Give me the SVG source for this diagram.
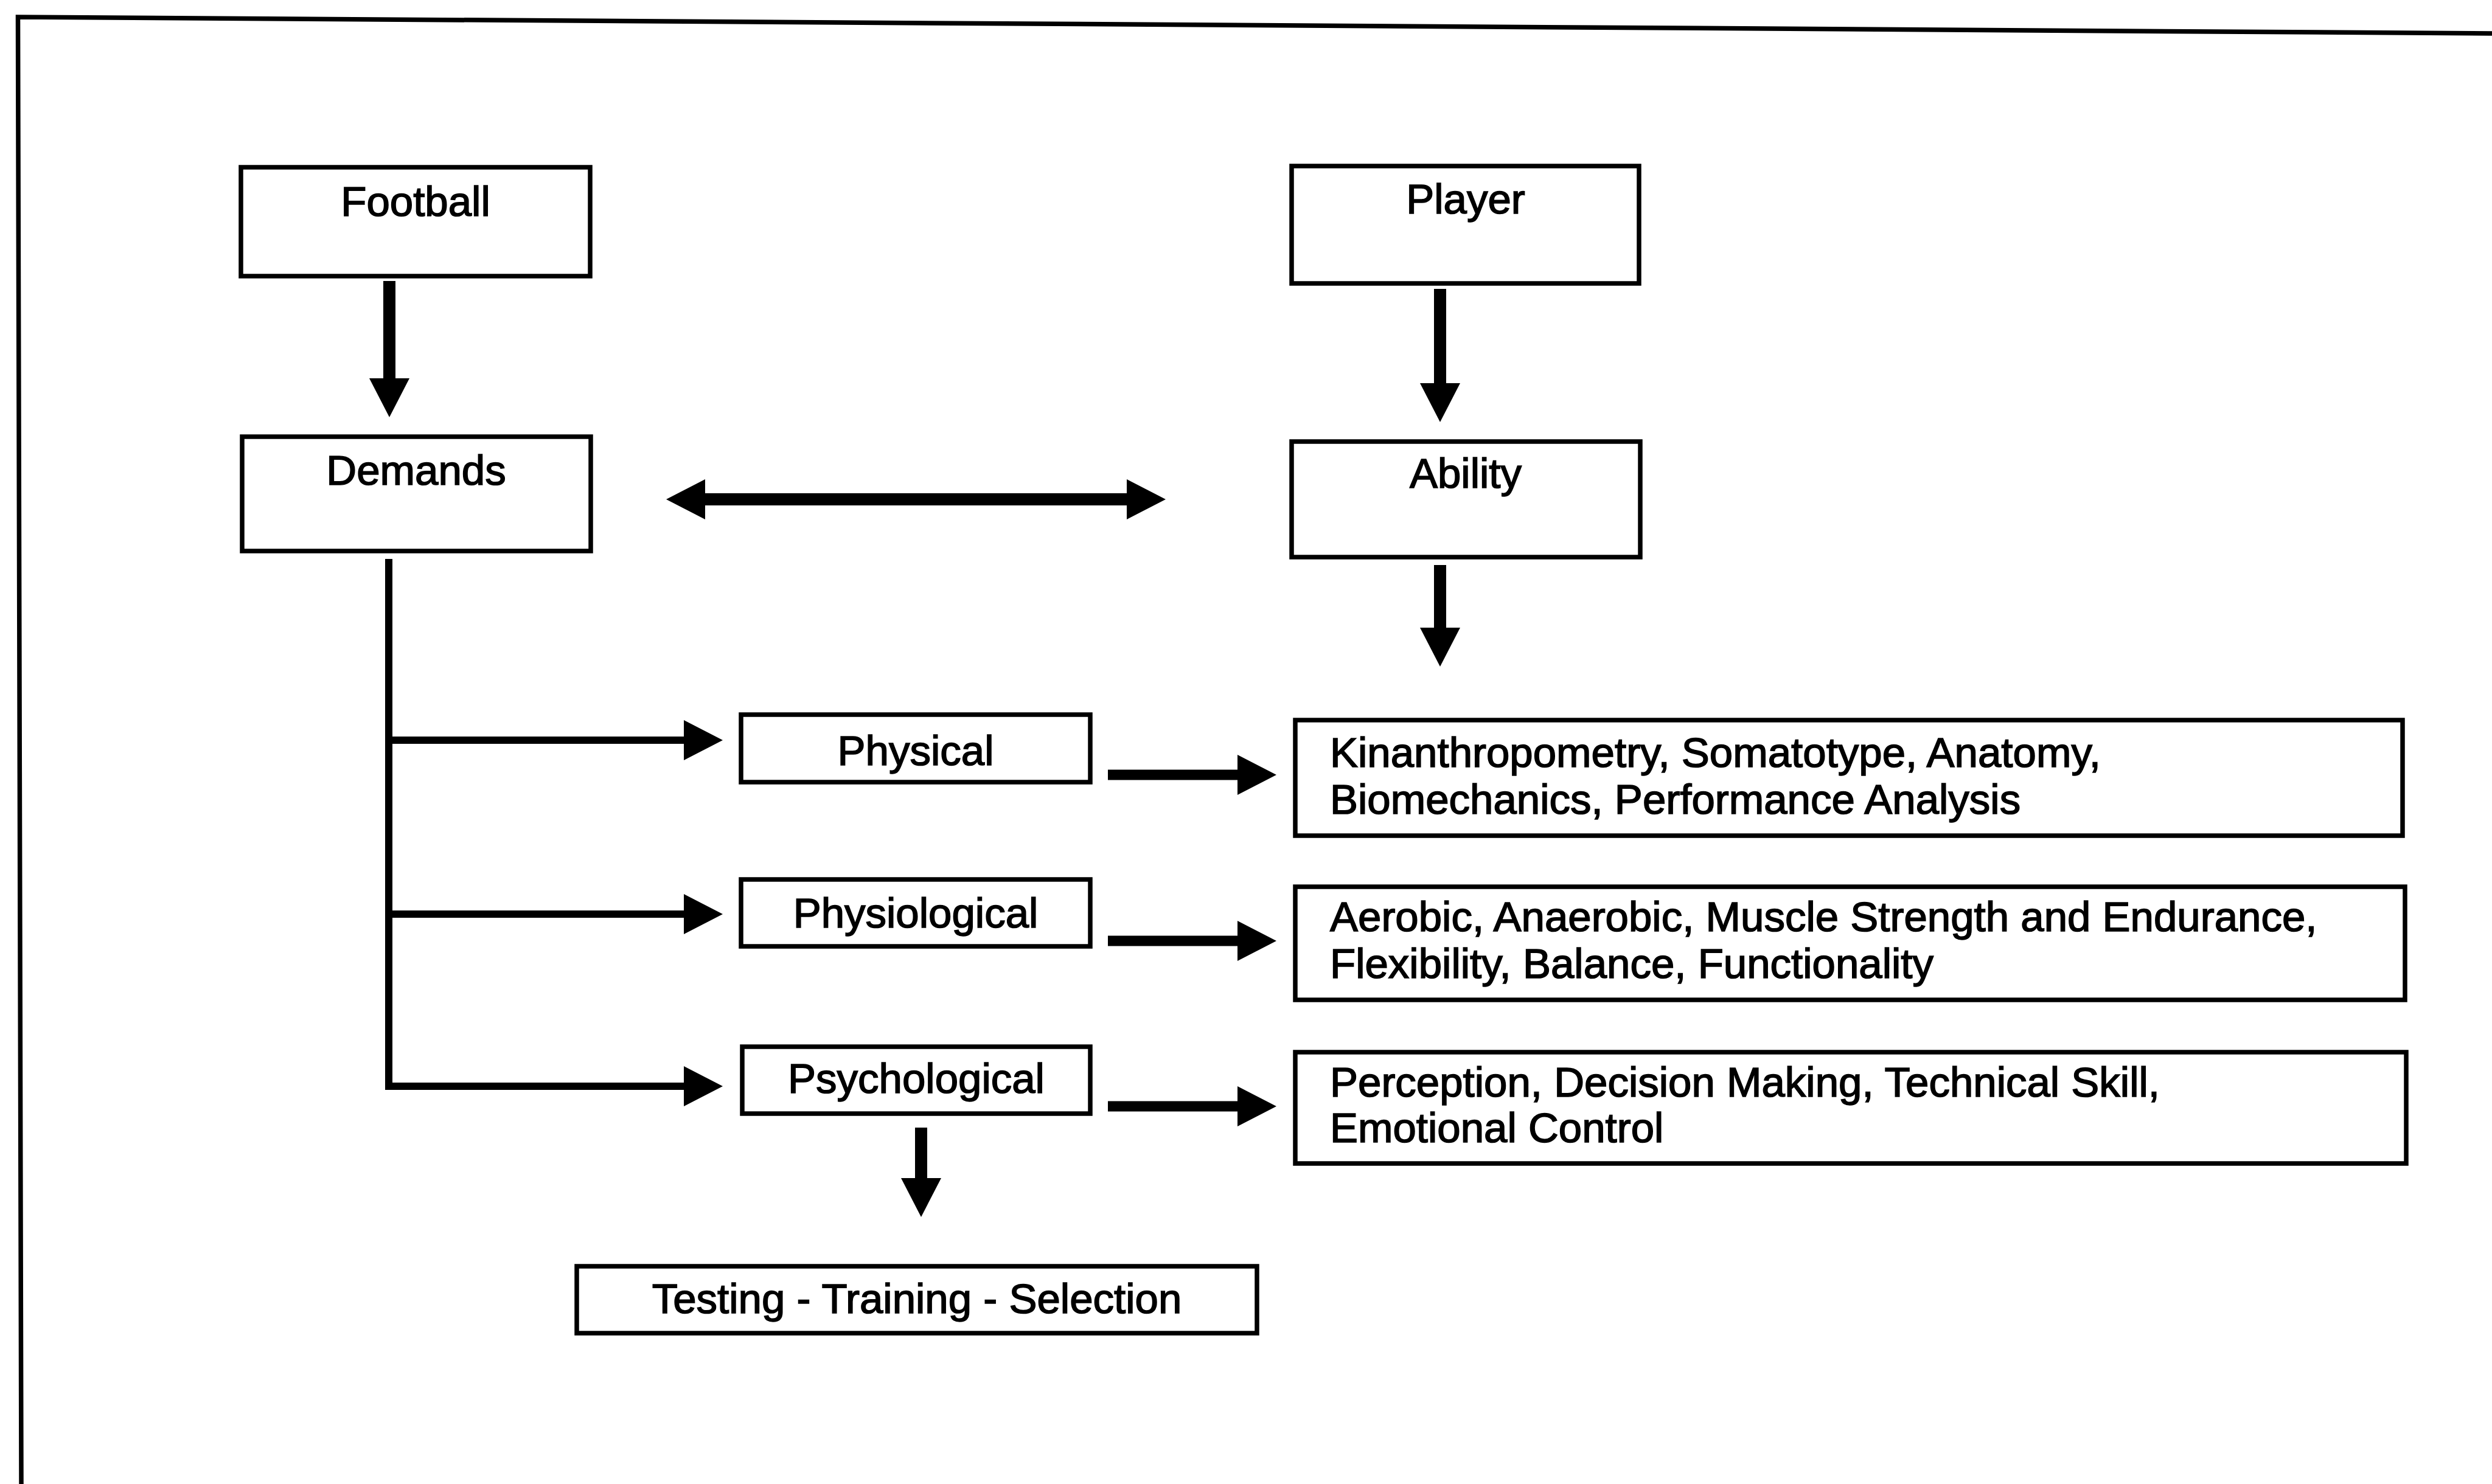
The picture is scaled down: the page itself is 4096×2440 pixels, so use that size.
<svg xmlns="http://www.w3.org/2000/svg" width="4096" height="2440" viewBox="0 0 4096 2440">
<style>
  .box { fill: #ffffff; stroke: #000000; stroke-width: 7.5; }
  .lbl { font-family: "Liberation Sans", Arial, sans-serif; font-size: 69px; fill: #000000; stroke: #000000; stroke-width: 1.6; }
  .mid { text-anchor: middle; }
  .frame { fill: none; stroke: #000000; stroke-width: 7.5; }
  .shaft { fill: none; stroke: #000000; stroke-width: 20; }
  .branch { fill: none; stroke: #000000; stroke-width: 12; }
  .side { fill: none; stroke: #000000; stroke-width: 17; }
</style>
<defs>
  <marker id="ah" markerUnits="userSpaceOnUse" markerWidth="64" markerHeight="66" viewBox="0 0 64 66" refX="0" refY="33" orient="auto-start-reverse">
    <path d="M0,0 L64,33 L0,66 z" fill="#000000"/>
  </marker>
</defs>
<rect x="0" y="0" width="4096" height="2440" fill="#ffffff"/>
<g id="frame">
  <path class="frame" d="M35,2440 L29.5,28 L4096,55"/>
</g>
<g id="connectors">
  <line class="shaft" x1="640" y1="462" x2="640" y2="622" marker-end="url(#ah)"/>
  <line class="shaft" x1="2367" y1="475" x2="2367" y2="630" marker-end="url(#ah)"/>
  <line class="shaft" x1="2367" y1="929" x2="2367" y2="1032" marker-end="url(#ah)"/>
  <line class="shaft" x1="1159" y1="821" x2="1852" y2="821" marker-start="url(#ah)" marker-end="url(#ah)"/>
  <path class="branch" d="M639,919 L639,1792"/>
  <line class="branch" x1="633" y1="1217" x2="1124" y2="1217" marker-end="url(#ah)"/>
  <line class="branch" x1="633" y1="1503" x2="1124" y2="1503" marker-end="url(#ah)"/>
  <line class="branch" x1="633" y1="1786" x2="1124" y2="1786" marker-end="url(#ah)"/>
  <line class="shaft" x1="1514" y1="1854" x2="1514" y2="1937" marker-end="url(#ah)"/>
  <line class="side" x1="1821" y1="1274" x2="2034" y2="1274" marker-end="url(#ah)"/>
  <line class="side" x1="1821" y1="1547" x2="2034" y2="1547" marker-end="url(#ah)"/>
  <line class="side" x1="1821" y1="1819" x2="2034" y2="1819" marker-end="url(#ah)"/>
</g>
<g id="football">
  <rect class="box" x="396" y="275" width="574" height="179"/>
  <text class="lbl mid" x="683" y="355">Football</text>
</g>
<g id="demands">
  <rect class="box" x="398" y="718" width="573" height="188"/>
  <text class="lbl mid" x="684" y="797">Demands</text>
</g>
<g id="player">
  <rect class="box" x="2123" y="273" width="571" height="193"/>
  <text class="lbl mid" x="2409" y="351">Player</text>
</g>
<g id="ability">
  <rect class="box" x="2123" y="726" width="573" height="190"/>
  <text class="lbl mid" x="2409" y="802">Ability</text>
</g>
<g id="physical">
  <rect class="box" x="1218" y="1175" width="574" height="111"/>
  <text class="lbl mid" x="1505" y="1258">Physical</text>
</g>
<g id="physiological">
  <rect class="box" x="1218" y="1446" width="574" height="110"/>
  <text class="lbl mid" x="1505" y="1525">Physiological</text>
</g>
<g id="psychological">
  <rect class="box" x="1220" y="1721" width="572" height="110"/>
  <text class="lbl mid" x="1506" y="1797">Psychological</text>
</g>
<g id="testing">
  <rect class="box" x="948" y="2082" width="1118" height="110"/>
  <text class="lbl mid" x="1507" y="2159">Testing - Training - Selection</text>
</g>
<g id="physical-detail">
  <rect class="box" x="2129" y="1184" width="1820" height="190"/>
  <text class="lbl" x="2186" y="1261">Kinanthropometry, Somatotype, Anatomy,</text>
  <text class="lbl" x="2186" y="1338">Biomechanics, Performance Analysis</text>
</g>
<g id="physiological-detail">
  <rect class="box" x="2129" y="1458" width="1824" height="186"/>
  <text class="lbl" x="2186" y="1531">Aerobic, Anaerobic, Muscle Strength and Endurance,</text>
  <text class="lbl" x="2186" y="1608">Flexibility, Balance, Functionality</text>
</g>
<g id="psychological-detail">
  <rect class="box" x="2129" y="1730" width="1826" height="183"/>
  <text class="lbl" x="2186" y="1803">Perception, Decision Making, Technical Skill,</text>
  <text class="lbl" x="2186" y="1878">Emotional Control</text>
</g>
</svg>
